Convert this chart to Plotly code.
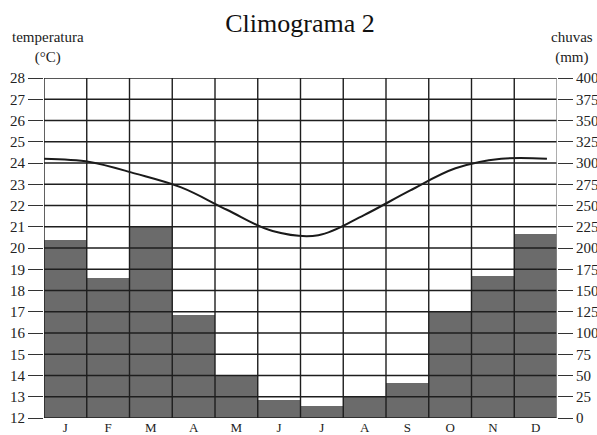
import plotly.graph_objects as go

months = ["J", "F", "M", "A", "M", "J", "J", "A", "S", "O", "N", "D"]
chuvas_mm = [210, 165, 225, 121, 51, 21, 14, 25, 41, 125, 167, 216]
temperatura_c = [24.2, 24.05, 23.5, 22.85, 21.8, 20.8, 20.6, 21.55, 22.7, 23.75, 24.2, 24.2]
temp_ticks = list(range(12, 29))
rain_ticks = list(range(0, 401, 25))

FONT = "Liberation Serif"
GRID = "#1e1e1e"
TXT = "#222222"

W, H = 597, 435

fig = go.Figure()

# precipitation bars on main subplot (x, y) ; y = right axis
fig.add_trace(go.Bar(
    x=list(range(len(months))), y=chuvas_mm, xaxis="x", yaxis="y",
    marker=dict(color="#6b6b6b", line=dict(width=0)), showlegend=False,
))

# temperature line on overlay subplot (x2, y2) ; y2 = left axis
fig.add_trace(go.Scatter(
    x=list(range(len(temperatura_c))), y=temperatura_c, xaxis="x2", yaxis="y2",
    mode="lines", line=dict(color="#1a1a1a", width=2, shape="spline", smoothing=1.0),
    showlegend=False,
))

shapes = []
for t in temp_ticks:
    shapes.append(dict(type="line", xref="paper", yref="y2", x0=0, x1=1, y0=t, y1=t,
                       line=dict(color=GRID, width=1.4), layer="above"))
for i in range(len(months) + 1):
    shapes.append(dict(type="line", xref="x", yref="paper", x0=i - 0.5, x1=i - 0.5, y0=0, y1=1,
                       line=dict(color=GRID if i < len(months) else "#8a8a8a", width=1.4),
                       layer="above"))

fig.update_layout(
    width=W, height=H,
    margin=dict(l=44, r=40, t=78, b=17, autoexpand=False),
    paper_bgcolor="white", plot_bgcolor="rgba(0,0,0,0)",
    bargap=0,
    font=dict(family=FONT, size=15, color=TXT),
    title=dict(text="Climograma 2", x=300 / W, xanchor="center", y=1 - 23 / H, yanchor="middle",
               yref="container", automargin=False, font=dict(family=FONT, size=26, color="#111")),
    xaxis=dict(range=[-0.5, len(months) - 0.5], tickvals=list(range(len(months))), ticktext=months,
               showgrid=False, zeroline=False, showline=False, automargin=False,
               ticks="", ticklen=0,
               tickfont=dict(family=FONT, size=13, color=TXT)),
    xaxis2=dict(overlaying="x", range=[0, 11.22], visible=False, automargin=False),
    yaxis=dict(range=[0, 400], tickvals=rain_ticks, side="right", automargin=False,
               showgrid=False, zeroline=False, showline=False,
               ticks="outside", ticklen=15, tickcolor="#333", tickwidth=1.2,
               tickfont=dict(family=FONT, size=15, color=TXT)),
    yaxis2=dict(range=[12, 28], tickvals=temp_ticks, overlaying="y", side="left", automargin=False,
                showgrid=False, zeroline=False, showline=False,
                ticks="outside", ticklen=15, tickcolor="#333", tickwidth=1.2,
                tickfont=dict(family=FONT, size=15, color=TXT)),
    shapes=shapes,
    annotations=[
        dict(text="temperatura<br>(°C)", xref="paper", yref="paper", x=4 / 513, y=1 + 10 / 340,
             xanchor="center", yanchor="bottom", showarrow=False, align="center",
             font=dict(family=FONT, size=15, color=TXT)),
        dict(text="chuvas<br>(mm)", xref="paper", yref="paper", x=(572 - 44) / 513, y=1 + 10 / 340,
             xanchor="center", yanchor="bottom", showarrow=False, align="center",
             font=dict(family=FONT, size=15, color=TXT)),
    ],
)

fig.write_html(
    "out.html",
    config={"displayModeBar": False},
    post_script="document.body.style.margin='0';document.body.style.overflow='hidden';",
)
